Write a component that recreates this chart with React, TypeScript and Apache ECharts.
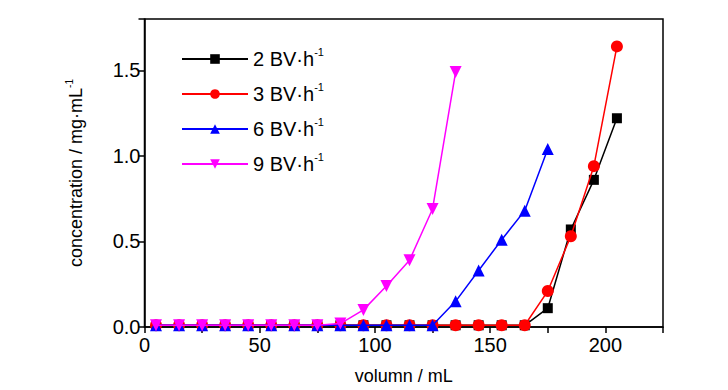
import React, { useEffect, useRef } from "react";
import * as echarts from "echarts";

const volumes = [5, 15, 25, 35, 45, 55, 65, 75, 85, 95, 105, 115, 125, 135, 145, 155, 165, 175, 185, 195, 205];
const legendBases = ["2 BV·h", "3 BV·h", "6 BV·h", "9 BV·h"];
const flow2 = [0.01, 0.01, 0.01, 0.01, 0.01, 0.01, 0.01, 0.01, 0.01, 0.01, 0.01, 0.01, 0.01, 0.01, 0.01, 0.01, 0.01, 0.11, 0.57, 0.86, 1.22];
const flow3 = [0.01, 0.01, 0.01, 0.01, 0.01, 0.01, 0.01, 0.01, 0.01, 0.01, 0.01, 0.01, 0.01, 0.01, 0.01, 0.01, 0.01, 0.21, 0.53, 0.94, 1.64];
const flow6 = [0.01, 0.01, 0.01, 0.01, 0.01, 0.01, 0.01, 0.01, 0.01, 0.01, 0.01, 0.01, 0.01, 0.15, 0.33, 0.51, 0.68, 1.04];
const flow9 = [0.01, 0.01, 0.01, 0.01, 0.01, 0.01, 0.01, 0.01, 0.02, 0.1, 0.24, 0.39, 0.69, 1.49];
const xTicks = [0, 50, 100, 150, 200];
const yTicks = [0, 0.5, 1.0, 1.5];

const FONT = "'Liberation Sans', Arial, sans-serif";

export default function App() {
  const ref = useRef<HTMLDivElement>(null);
  useEffect(() => {
    document.body.style.margin = "0";
    if (!ref.current) return;
    const chart = echarts.init(ref.current, null, { renderer: "svg" });
    const pair = (vals: number[]) => vals.map((v, i) => [volumes[i], v]);
    const colors = ["#000000", "#ff0000", "#0000ff", "#ff00ff"];
    const symbols = ["rect", "circle", "triangle", "triangle"];
    const sizes = [10, 12, 12, 12];
    const rotates = [0, 0, 0, 180];
    const datas = [flow2, flow3, flow6, flow9];
    const names = legendBases.map((b) => b + "-1");
    chart.setOption({
      animation: false,
      backgroundColor: "#ffffff",
      grid: {
        left: 144.5,
        right: 65,
        top: 19,
        bottom: 61,
        show: true,
        borderColor: "#000",
        borderWidth: 1.5,
      },
      legend: {
        orient: "vertical",
        left: 181,
        top: 46,
        padding: 0,
        itemWidth: 66,
        itemHeight: 12,
        itemGap: 12,
        data: names,
        formatter: (name: string) => {
          const base = name.slice(0, -2);
          return `{a|${base}}{s|-1}`;
        },
        textStyle: {
          color: "#000",
          fontFamily: FONT,
          rich: {
            a: { fontSize: 20, fontFamily: FONT, color: "#000", lineHeight: 26 },
            s: { fontSize: 11, fontFamily: FONT, color: "#000", verticalAlign: "top", lineHeight: 26, padding: [0, 0, 10, 0] },
          },
        },
      },
      xAxis: {
        type: "value",
        min: 0,
        max: 225,
        interval: 25,
        name: "volumn / mL",
        nameLocation: "middle",
        nameGap: 40,
        nameTextStyle: { fontSize: 18, fontFamily: FONT, color: "#000" },
        axisLine: { lineStyle: { color: "#000", width: 1.5 } },
        axisTick: { show: true, inside: false, length: 6, lineStyle: { color: "#000", width: 1.5 } },
        axisLabel: {
          fontSize: 20,
          fontFamily: FONT,
          color: "#000",
          margin: 8,
          formatter: (v: number) => (xTicks.includes(v) ? String(v) : ""),
        },
        splitLine: { show: false },
      },
      yAxis: {
        type: "value",
        min: 0,
        max: 1.8,
        interval: 0.5,
        name: "{a|concentration / mg·mL}{s|-1}",
        nameLocation: "middle",
        nameGap: 58,
        nameTextStyle: {
          fontSize: 18,
          fontFamily: FONT,
          color: "#000",
          rich: {
            a: { fontSize: 18, fontFamily: FONT, color: "#000", lineHeight: 22 },
            s: { fontSize: 10, fontFamily: FONT, color: "#000", verticalAlign: "top", lineHeight: 22, padding: [0, 0, 8, 0] },
          },
        },
        axisLine: { lineStyle: { color: "#000", width: 1.5 } },
        axisTick: { show: true, inside: false, length: 6, lineStyle: { color: "#000", width: 1.5 } },
        axisLabel: {
          fontSize: 20,
          fontFamily: FONT,
          color: "#000",
          margin: 4,
          formatter: (v: number) => (yTicks.some((t) => Math.abs(t - v) < 1e-6) ? v.toFixed(1) : ""),
        },
        splitLine: { show: false },
      },
      series: names.map((n, k) => ({
        name: n,
        type: "line",
        data: pair(datas[k]),
        color: colors[k],
        symbol: symbols[k],
        symbolSize: sizes[k],
        symbolRotate: rotates[k],
        showSymbol: true,
        clip: false,
        lineStyle: { width: 1.5, color: colors[k] },
        itemStyle: { color: colors[k] },
        z: 2 + k,
      })),
    });
    return () => chart.dispose();
  }, []);
  return <div ref={ref} style={{ width: 728, height: 390 }} />;
}
